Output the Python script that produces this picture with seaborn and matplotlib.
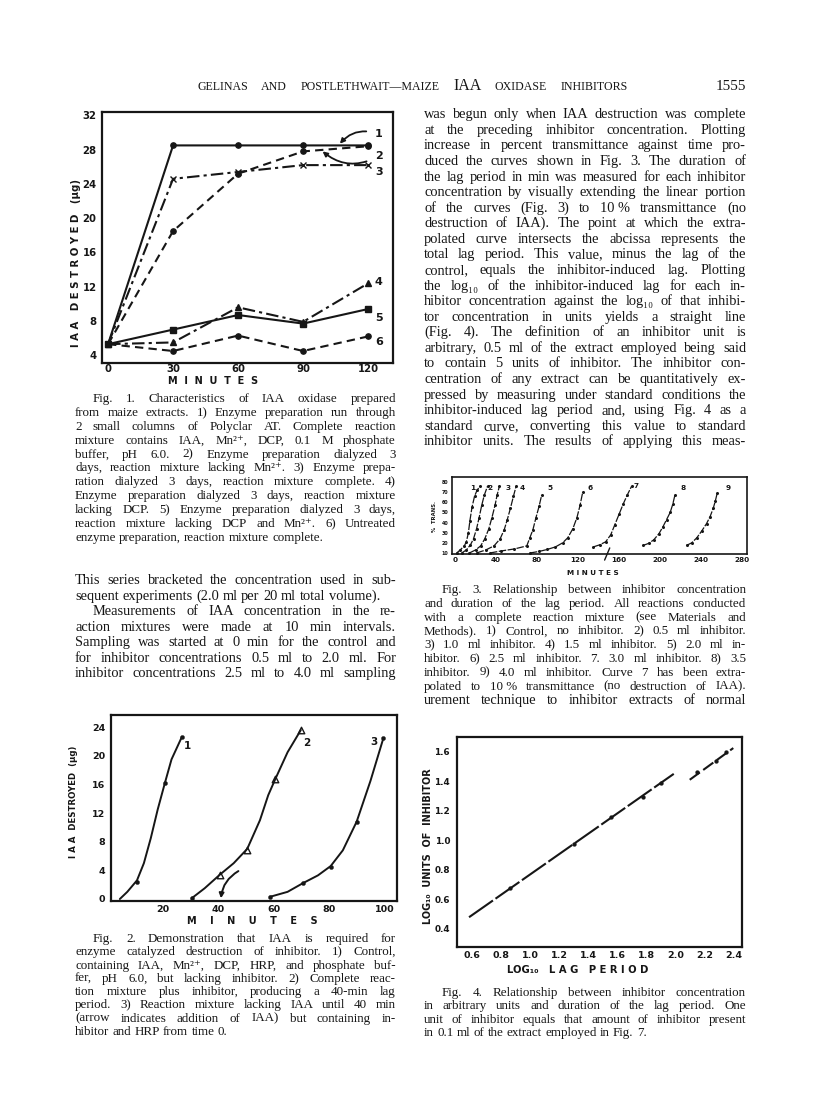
"""
Página escaneada 1555: IAA oxidasa en maíz (Figs. 1-4 con su texto).
"""

import matplotlib
matplotlib.use("Agg")
import matplotlib.pyplot as plt
import seaborn as sns

W, H = 816, 1094
INK = "#161616"
SERIF = ["Liberation Serif", "DejaVu Serif"]
SANS = ["DejaVu Sans"]

# ---------------- datos Fig. 1 ----------------
fig1_minutes = [0, 30, 60, 90, 120]
fig1_c1 = [5.3, 28.5, 28.5, 28.5, 28.5]
fig1_c2 = [5.3, 18.5, 25.2, 27.8, 28.4]
fig1_c3 = [5.3, 24.6, 25.4, 26.2, 26.2]
fig1_c4 = [5.3, 5.5, 9.6, 7.9, 12.4]
fig1_c5 = [5.3, 7.0, 8.7, 7.7, 9.4]
fig1_c6 = [5.3, 4.5, 6.3, 4.5, 6.2]
fig1_labels = ["1", "2", "3", "4", "5", "6"]
fig1_label_y = [29.8, 27.3, 25.4, 12.6, 8.4, 5.6]
fig1_xticks = [0, 30, 60, 90, 120]
fig1_yticks = [4, 8, 12, 16, 20, 24, 28, 32]

# ---------------- datos Fig. 2 ----------------
fig2_x1 = [4.3, 7, 10.5, 13, 15.5, 18, 20.6, 23, 26.7]
fig2_y1 = [0, 1.0, 2.6, 5.0, 8.5, 12.5, 16.2, 19.5, 22.6]
fig2_mx1 = [10.5, 20.6, 26.7]
fig2_my1 = [2.4, 16.2, 22.6]
fig2_x2 = [30.3, 35, 40.5, 45.5, 50.4, 55, 58, 60.5, 65, 69.8]
fig2_y2 = [0.1, 1.5, 3.4, 5.0, 7.0, 11, 14.5, 16.7, 20.5, 23.6]
fig2_mx2 = [40.5, 50.4, 60.5, 69.8]
fig2_my2 = [3.4, 6.8, 16.7, 23.6]
fig2_x3 = [58.6, 65, 70.5, 76, 80.6, 85, 90, 95, 99.7]
fig2_y3 = [0.3, 1.0, 2.2, 3.3, 4.6, 6.8, 10.8, 16.5, 22.5]
fig2_mx3 = [30.3, 58.6, 70.5, 80.6, 90.0, 99.7]
fig2_my3 = [0.1, 0.3, 2.2, 4.5, 10.8, 22.5]
fig2_labels = ["1", "2", "3"]
fig2_label_x = [28.6, 71.8, 96.4]
fig2_label_y = [21.4, 21.8, 21.9]
fig2_xticks = [10, 20, 30, 40, 50, 60, 70, 80, 90, 100]
fig2_xticklabels = ["", "20", "", "40", "", "60", "", "80", "", "100"]
fig2_yticks = [0, 4, 8, 12, 16, 20, 24]

# ---------------- datos Fig. 3 ----------------
fig3_x1 = [1.6, 5, 9, 11, 13, 14.5, 16.5, 19, 21.5, 24.4]
fig3_y1 = [10, 13, 17, 21, 30, 42, 55, 66, 72, 76]
fig3_x2 = [6.5, 11, 15, 18, 21, 23.5, 26, 28.5, 31.7]
fig3_y2 = [10, 13, 18, 24, 34, 45, 57, 67, 76]
fig3_x3 = [14, 20, 25, 29, 33, 36, 39, 41, 43.3]
fig3_y3 = [10, 13, 17, 24, 34, 45, 57, 67, 76]
fig3_x4 = [21, 30, 38, 44, 48, 51, 54, 57, 59.6]
fig3_y4 = [10, 13, 17, 24, 33, 43, 54, 66, 76]
fig3_x5 = [34, 45, 58, 70, 73, 76, 79, 82, 84.5]
fig3_y5 = [10, 12, 14, 17, 25, 33, 45, 56, 67]
fig3_x6 = [73, 82, 90, 98, 105, 110, 115, 119, 122, 124.6]
fig3_y6 = [10, 11.5, 13.5, 16, 20, 25, 34, 45, 57, 70]
fig3_x7 = [135, 141, 147, 152, 156, 160, 164, 168, 172.4]
fig3_y7 = [16, 18, 21, 28, 38, 48, 58, 67, 76]
fig3_x8 = [183.7, 189, 194, 199, 203, 206.5, 210, 212.5, 214.6]
fig3_y8 = [17.5, 19.5, 23, 29, 36, 43, 50, 58, 67]
fig3_x9 = [226, 231, 236, 241, 245.5, 249, 252, 254, 255.9]
fig3_y9 = [17.5, 20, 25, 32, 39, 46, 54, 61, 69]
fig3_extrap_x = [146, 151]
fig3_extrap_y = [3, 15]
fig3_labels = ["1", "2", "3", "4", "5", "6", "7", "8", "9"]
fig3_label_x = [17.2, 34, 52, 66, 92.7, 131.7, 176.6, 222.8, 266.7]
fig3_label_y = [74, 74, 74, 74, 74, 74, 76, 74, 74]
fig3_xticks = [0, 40, 80, 120, 160, 200, 240, 280]
fig3_yticks = [10, 20, 30, 40, 50, 60, 70, 80]

# ---------------- datos Fig. 4 ----------------
fig4_line_x = [0.58, 1.99]
fig4_line_y = [0.478, 1.45]
fig4_tail_x = [2.10, 2.40]
fig4_tail_y = [1.41, 1.625]
fig4_pts_x = [0.86, 1.30, 1.56, 1.78, 1.90, 2.15, 2.28, 2.35]
fig4_pts_y = [0.675, 0.975, 1.155, 1.29, 1.39, 1.46, 1.54, 1.60]
fig4_xticks = [0.6, 0.8, 1.0, 1.2, 1.4, 1.6, 1.8, 2.0, 2.2, 2.4]
fig4_xticklabels = ["0.6", "0.8", "1.0", "1.2", "1.4", "1.6", "1.8", "2.0", "2.2", "2.4"]
fig4_yticks = [0.4, 0.6, 0.8, 1.0, 1.2, 1.4, 1.6]
fig4_yticklabels = ["0.4", "0.6", "0.8", "1.0", "1.2", "1.4", "1.6"]

# ---------------- textos ----------------
header_left = ["GELINAS", "AND", "POSTLETHWAIT—MAIZE"]
header_mid = ["IAA"]
header_right = ["OXIDASE", "INHIBITORS"]
page_number = "1555"

fig1_caption = [
    "Fig. 1.  Characteristics of IAA oxidase prepared",
    "from maize extracts. 1) Enzyme preparation run through",
    "2 small columns of Polyclar AT.  Complete reaction",
    "mixture contains IAA, Mn²⁺, DCP, 0.1 M phosphate",
    "buffer, pH 6.0.  2) Enzyme preparation dialyzed 3",
    "days, reaction mixture lacking Mn²⁺.  3) Enzyme prepa-",
    "ration dialyzed 3 days, reaction mixture complete.  4)",
    "Enzyme preparation dialyzed 3 days, reaction mixture",
    "lacking DCP.  5) Enzyme preparation dialyzed 3 days,",
    "reaction mixture lacking DCP and Mn²⁺.  6) Untreated",
    "enzyme preparation, reaction mixture complete.",
]
left_body = [
    "This series bracketed the concentration used in sub-",
    "sequent experiments (2.0 ml per 20 ml total volume).",
    "Measurements of IAA concentration in the re-",
    "action mixtures were made at 10 min intervals.",
    "Sampling was started at 0 min for the control and",
    "for inhibitor concentrations 0.5 ml to 2.0 ml.  For",
    "inhibitor concentrations 2.5 ml to 4.0 ml sampling",
]
fig2_caption = [
    "Fig. 2.  Demonstration that IAA is required for",
    "enzyme catalyzed destruction of inhibitor. 1) Control,",
    "containing IAA, Mn²⁺, DCP, HRP, and phosphate buf-",
    "fer, pH 6.0, but lacking inhibitor.  2) Complete reac-",
    "tion mixture plus inhibitor, producing a 40-min lag",
    "period.  3) Reaction mixture lacking IAA until 40 min",
    "(arrow indicates addition of IAA) but containing in-",
    "hibitor and HRP from time 0.",
]
right_body = [
    "was begun only when IAA destruction was complete",
    "at the preceding inhibitor concentration.  Plotting",
    "increase in percent transmittance against time pro-",
    "duced the curves shown in Fig. 3.  The duration of",
    "the lag period in min was measured for each inhibitor",
    "concentration by visually extending the linear portion",
    "of the curves (Fig. 3) to 10\u00a0% transmittance (no",
    "destruction of IAA).  The point at which the extra-",
    "polated curve intersects the abcissa represents the",
    "total lag period.  This value, minus the lag of the",
    "control, equals the inhibitor-induced lag.  Plotting",
    "the log₁₀ of the inhibitor-induced lag for each in-",
    "hibitor concentration against the log₁₀ of that inhibi-",
    "tor concentration in units yields a straight line",
    "(Fig. 4).  The definition of an inhibitor unit is",
    "arbitrary, 0.5 ml of the extract employed being said",
    "to contain 5 units of inhibitor.  The inhibitor con-",
    "centration of any extract can be quantitatively ex-",
    "pressed by measuring under standard conditions the",
    "inhibitor-induced lag period and, using Fig. 4 as a",
    "standard curve, converting this value to standard",
    "inhibitor units.  The results of applying this meas-",
]
fig3_caption = [
    "Fig. 3.  Relationship between inhibitor concentration",
    "and duration of the lag period. All reactions conducted",
    "with a complete reaction mixture (see Materials and",
    "Methods).  1) Control, no inhibitor. 2) 0.5 ml inhibitor.",
    "3) 1.0 ml inhibitor. 4) 1.5 ml inhibitor. 5) 2.0 ml in-",
    "hibitor. 6) 2.5 ml inhibitor. 7. 3.0 ml inhibitor. 8) 3.5",
    "inhibitor. 9) 4.0 ml inhibitor.  Curve 7 has been extra-",
    "polated to 10\u00a0% transmittance (no destruction of IAA).",
]
right_body_tail = ["urement technique to inhibitor extracts of normal"]
fig4_caption = [
    "Fig. 4.  Relationship between inhibitor concentration",
    "in arbitrary units and duration of the lag period. One",
    "unit of inhibitor equals that amount of inhibitor present",
    "in 0.1 ml of the extract employed in Fig. 7.",
]

BODY = 10.4
CAPTION = 9.4


def fx(x):
    return x / W


def fy(y):
    return 1 - y / H


def word_width(fig, word, size, family=SERIF, weight="normal"):
    t = fig.text(0, 0, word, fontsize=size, family=family, weight=weight)
    w = t.get_window_extent(renderer=fig.canvas.get_renderer()).width
    t.remove()
    return w


def put_words(fig, items, x0, x1, ybase, justify=True, family=SERIF):
    """items: lista de (palabra, tamaño). Coloca las palabras en una línea."""
    widths = [word_width(fig, w, s, family) for w, s in items]
    space = 0.25 * items[0][1] * 100 / 72
    natural = sum(widths) + space * (len(items) - 1)
    if natural > x1 - x0:
        # la línea no cabe: reducir un poco el cuerpo de letra
        k = (x1 - x0) / natural * 0.995
        items = [(w, s * k) for w, s in items]
        widths = [word_width(fig, w, s, family) for w, s in items]
        space *= k
    if justify and len(items) > 1:
        gap = (x1 - x0 - sum(widths)) / (len(items) - 1)
    else:
        gap = space
    x = x0
    for (w, s), wd in zip(items, widths):
        fig.text(fx(x), fy(ybase), w, fontsize=s, family=family, color=INK,
                 ha="left", va="baseline")
        x += wd + gap


def paragraph(fig, lines, x0, x1, y_first, step, size, indents=None, free=None):
    indents = indents or {}
    free = free or set()
    size_px = size * 100 / 72
    for i, line in enumerate(lines):
        words = [w for w in line.split(" ") if w]
        items = [(w, size) for w in words]
        yb = y_first + i * step + 0.3 * size_px
        put_words(fig, items, x0 + indents.get(i, 0), x1, yb, justify=(i not in free))


def add_box(fig, x0, y0, x1, y1, lw=1.5):
    ax = fig.add_axes([fx(x0), fy(y1), (x1 - x0) / W, (y1 - y0) / H])
    for sp in ax.spines.values():
        sp.set_linewidth(lw)
        sp.set_color(INK)
        sp.set_visible(True)
    ax.set_facecolor("white")
    return ax


def bold_ticks(ax):
    for lab in ax.get_xticklabels() + ax.get_yticklabels():
        lab.set_fontweight("bold")
        lab.set_color(INK)


def curve(ax, xs, ys, ls="-", lw=1.4, marker=None, ms=3.5, mfc=INK):
    sns.lineplot(x=xs, y=ys, ax=ax, color=INK, linestyle=ls, lw=lw,
                 marker=marker, markersize=ms, markerfacecolor=mfc,
                 markeredgecolor=INK, markeredgewidth=1.0,
                 estimator=None, sort=False)


sns.set_style("white")
plt.rcParams["font.family"] = SANS
plt.rcParams["text.color"] = INK

fig = plt.figure(figsize=(W / 100, H / 100), dpi=100)
fig.patch.set_facecolor("white")

# ---------------- cabecera ----------------
hs = 8.6
head_items = [(w, hs) for w in header_left] + [(w, 11.5) for w in header_mid] + [(w, hs) for w in header_right]
put_words(fig, head_items, 197, 628, 90)
fig.text(fx(746), fy(90), page_number, fontsize=11, family=SERIF, color=INK,
         ha="right", va="baseline")

# ---------------- Fig. 1 ----------------
ax1 = add_box(fig, 102, 112, 393, 363, lw=1.6)
styles1 = [
    ("-", "o", fig1_c1),
    ((0, (4, 2.5)), "o", fig1_c2),
    ((0, (6, 2, 1.5, 2)), "x", fig1_c3),
    ((0, (6, 2, 1.5, 2)), "^", fig1_c4),
    ("-", "s", fig1_c5),
    ((0, (4, 2.5)), "o", fig1_c6),
]
for ls, mk, ys in styles1:
    curve(ax1, fig1_minutes, ys, ls=ls, lw=1.5, marker=mk, ms=3.8)
ax1.set_xlim(-2.8, 131.5)
ax1.set_ylim(3.1, 32.4)
ax1.set_xticks(fig1_xticks)
ax1.set_yticks(fig1_yticks)
ax1.set(xlabel="", ylabel="")
ax1.tick_params(axis="y", direction="out", length=3, width=1.2, pad=1, labelsize=7.3)
ax1.tick_params(axis="x", length=0, pad=1, labelsize=7.3)
bold_ticks(ax1)
for lab, y in zip(fig1_labels, fig1_label_y):
    if lab in ("1", "2"):
        continue
    ax1.text(125, y, lab, fontsize=8, weight="bold", ha="center", va="center")
ax1.annotate(fig1_labels[0], xy=(107, 28.7), xytext=(125, fig1_label_y[0]),
             fontsize=8, weight="bold", ha="center", va="center",
             arrowprops=dict(arrowstyle="-|>", color=INK, lw=1.3, mutation_scale=7,
                             connectionstyle="arc3,rad=0.35", shrinkA=4, shrinkB=0))
ax1.annotate(fig1_labels[1], xy=(99, 27.8), xytext=(125, fig1_label_y[1]),
             fontsize=8, weight="bold", ha="center", va="center",
             arrowprops=dict(arrowstyle="-|>", color=INK, lw=1.3, mutation_scale=7,
                             connectionstyle="arc3,rad=-0.35", shrinkA=4, shrinkB=0))
fig.text(fx(76), fy(263), "I A A   D E S T R O Y E D   (μg)", rotation=90,
         fontsize=7.3, weight="bold", ha="center", va="center")
fig.text(fx(213), fy(381), "M  I  N  U  T  E  S", fontsize=7,
         weight="bold", ha="center", va="center")

paragraph(fig, fig1_caption, 75, 396, 398, 13.9, CAPTION, indents={0: 18}, free={10})
paragraph(fig, left_body, 75, 396, 580, 15.5, BODY, indents={2: 18}, free={1})

# ---------------- Fig. 2 ----------------
ax2 = add_box(fig, 111, 715, 397, 901, lw=1.6)
curve(ax2, fig2_x1, fig2_y1, lw=1.4)
curve(ax2, fig2_x2, fig2_y2, lw=1.4)
curve(ax2, fig2_x3, fig2_y3, lw=1.4)
sns.scatterplot(x=fig2_mx1, y=fig2_my1, ax=ax2, color=INK, s=9, marker="o", edgecolor=INK)
sns.scatterplot(x=fig2_mx2, y=fig2_my2, ax=ax2, color="white", s=22, marker="^",
                edgecolor=INK, linewidth=1.0)
sns.scatterplot(x=fig2_mx3, y=fig2_my3, ax=ax2, color=INK, s=9, marker="o", edgecolor=INK)
for lab, x, y in zip(fig2_labels, fig2_label_x, fig2_label_y):
    ax2.text(x, y, lab, fontsize=7.5, weight="bold", ha="center", va="center")
ax2.annotate("", xy=(40.9, 0.1), xytext=(47.2, 3.9),
             arrowprops=dict(arrowstyle="-|>", color=INK, lw=1.4, mutation_scale=7,
                             connectionstyle="arc3,rad=0.25", shrinkA=0, shrinkB=0))
ax2.set_xlim(1.1, 104.6)
ax2.set_ylim(-0.28, 25.7)
ax2.set_xticks(fig2_xticks, labels=fig2_xticklabels)
ax2.set_yticks(fig2_yticks)
ax2.set(xlabel="", ylabel="")
ax2.tick_params(axis="x", direction="in", length=4, width=1.2, pad=3, labelsize=6.8)
ax2.tick_params(axis="y", direction="out", length=3, width=1.2, pad=1, labelsize=6.8)
bold_ticks(ax2)
fig.text(fx(74), fy(802), "I A A  DESTROYED  (μg)", rotation=90,
         fontsize=6.2, weight="bold", ha="center", va="center")
fig.text(fx(252), fy(921), "M    I    N    U    T    E    S", fontsize=7,
         weight="bold", ha="center", va="center")
paragraph(fig, fig2_caption, 75, 396, 938, 13.3, CAPTION, indents={0: 18}, free={7})

# ---------------- texto columna derecha ----------------
paragraph(fig, right_body, 424, 746, 114, 15.57, BODY)

# ---------------- Fig. 3 ----------------
ax3 = add_box(fig, 452, 477, 747, 554, lw=1.2)
fig3_xs = [fig3_x1, fig3_x2, fig3_x3, fig3_x4, fig3_x5, fig3_x6, fig3_x7, fig3_x8, fig3_x9]
fig3_ys = [fig3_y1, fig3_y2, fig3_y3, fig3_y4, fig3_y5, fig3_y6, fig3_y7, fig3_y8, fig3_y9]
for xs, ys in zip(fig3_xs, fig3_ys):
    curve(ax3, xs, ys, ls=(0, (6, 1.2)), lw=0.9, marker="o", ms=1.2)
ax3.plot(fig3_extrap_x, fig3_extrap_y, color=INK, lw=1.0, clip_on=False)
for lab, x, y in zip(fig3_labels, fig3_label_x, fig3_label_y):
    ax3.text(x, y, lab, fontsize=5.3, weight="bold", ha="center", va="center")
ax3.set_xlim(-3, 285)
ax3.set_ylim(9, 85)
ax3.set_xticks(fig3_xticks)
ax3.set_yticks(fig3_yticks)
ax3.set(xlabel="", ylabel="")
ax3.tick_params(axis="x", direction="in", length=2, width=0.8, pad=2, labelsize=5.2)
ax3.tick_params(axis="y", direction="out", length=1.5, width=0.8, pad=1, labelsize=3.4)
bold_ticks(ax3)
fig.text(fx(434), fy(517), "%  TRANS.", rotation=90, fontsize=3.8, weight="bold",
         ha="center", va="center")
fig.text(fx(593), fy(573), "M I N U T E S", fontsize=5.2, weight="bold",
         ha="center", va="center")
paragraph(fig, fig3_caption, 424, 746, 589, 13.8, CAPTION, indents={0: 18})
paragraph(fig, right_body_tail, 424, 746, 700, 15.5, BODY)

# ---------------- Fig. 4 ----------------
ax4 = add_box(fig, 457, 737, 742, 947, lw=1.6)
curve(ax4, fig4_line_x, fig4_line_y, ls=(0, (14, 1.5)), lw=1.5)
curve(ax4, fig4_tail_x, fig4_tail_y, ls=(0, (6, 2)), lw=1.5)
sns.scatterplot(x=fig4_pts_x, y=fig4_pts_y, ax=ax4, color=INK, s=8, edgecolor=INK)
ax4.set_xlim(0.497, 2.46)
ax4.set_ylim(0.276, 1.70)
ax4.set_xticks(fig4_xticks, labels=fig4_xticklabels)
ax4.set_yticks(fig4_yticks, labels=fig4_yticklabels)
ax4.set(xlabel="", ylabel="")
ax4.tick_params(axis="x", direction="in", length=4, width=1.2, pad=3, labelsize=6.8)
ax4.tick_params(axis="y", direction="out", length=4, width=1.2, pad=1, labelsize=6.4)
bold_ticks(ax4)
fig.text(fx(428), fy(846), "LOG₁₀  UNITS  OF  INHIBITOR", rotation=90,
         fontsize=7, weight="bold", ha="center", va="center")
fig.text(fx(578), fy(970), "LOG₁₀   L A G   P E R I O D", fontsize=7.2,
         weight="bold", ha="center", va="center")
paragraph(fig, fig4_caption, 424, 746, 992, 13.3, CAPTION, indents={0: 18}, free={3})

fig.savefig("out.png", dpi=100, facecolor="white")
